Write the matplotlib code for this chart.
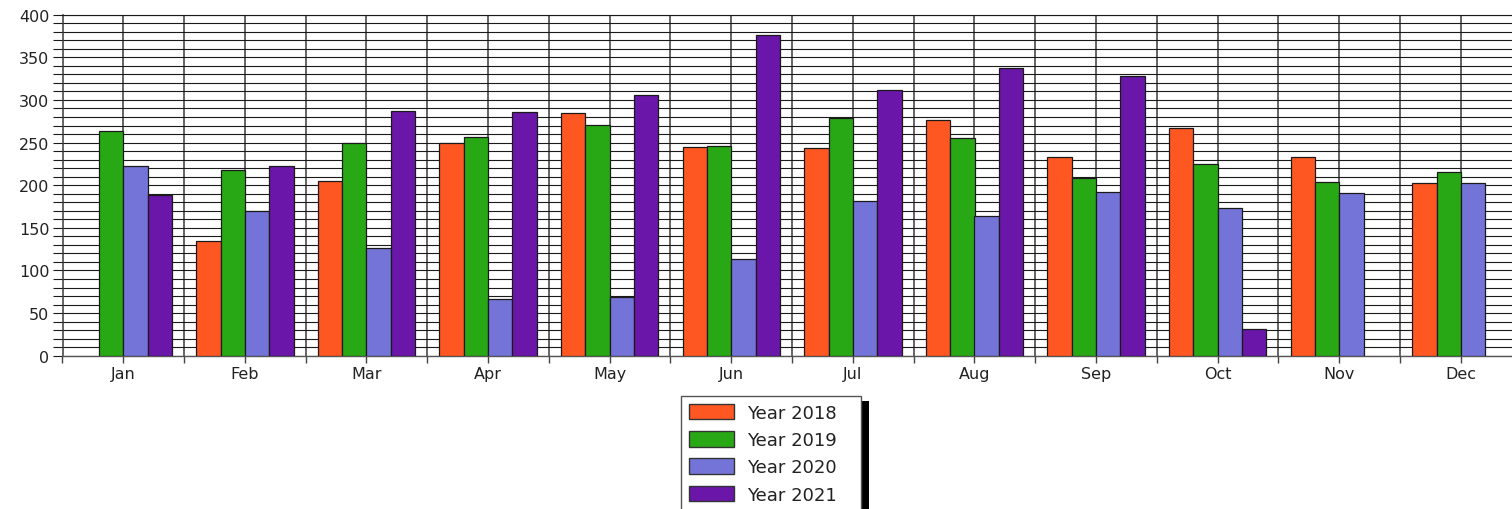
import numpy as np
import matplotlib
matplotlib.use("Agg")
import matplotlib.pyplot as plt
from matplotlib.patches import Patch, Rectangle
from matplotlib.ticker import MultipleLocator, FixedLocator

months = ["Jan", "Feb", "Mar", "Apr", "May", "Jun", "Jul", "Aug", "Sep", "Oct", "Nov", "Dec"]
series_names = ["Year 2018", "Year 2019", "Year 2020", "Year 2021"]
nan = np.nan
y2018 = [nan, 135, 205, 250, 285, 245, 244, 276, 233, 267, 233, 203]
y2019 = [263, 218, 249, 256, 271, 246, 279, 255, 208, 225, 204, 216]
y2020 = [222, 170, 126, 67, 69, 113, 181, 164, 192, 173, 191, 202]
y2021 = [189, 223, 287, 286, 306, 376, 312, 338, 328, 31, nan, nan]
series = [y2018, y2019, y2020, y2021]
colors = ["#FF5722", "#28A815", "#7474D8", "#6A16A8"]

plt.rcParams['font.family'] = ['DejaVu Sans']

W, H = 1512, 510
fig = plt.figure(figsize=(W / 100, H / 100), dpi=100)
left_px, right_px = 62.5, 1521.7
top_px, bot_px = 15.7, 356.7
ax = fig.add_axes([left_px / W, (H - bot_px) / H, (right_px - left_px) / W, (bot_px - top_px) / H])

x = np.arange(len(months))
bw = 0.2
for i, (vals, c) in enumerate(zip(series, colors)):
    ax.bar(x + (i - 1.5) * bw, vals, width=bw, color=c, edgecolor="#1a1a1a",
           linewidth=0.9, zorder=3)

ax.set_xlim(-0.5, len(months) - 0.5)
ax.set_ylim(0, 400)
ax.set_axisbelow(True)

ax.set_xticks(x)
ax.set_xticklabels(months)
ax.xaxis.set_minor_locator(FixedLocator(np.arange(-0.5, len(months), 1.0)))
ax.yaxis.set_major_locator(MultipleLocator(50))
ax.yaxis.set_minor_locator(MultipleLocator(10))

ax.tick_params(axis="x", which="both", length=5, width=1, color="#444444",
               labelsize=11.5, labelcolor="#222222", pad=2.5)
ax.tick_params(axis="y", which="both", length=7.5, width=0.8, color="#1a1a1a",
               labelsize=11.5, labelcolor="#222222", pad=2)

ax.yaxis.grid(True, which="both", color="#1a1a1a", linewidth=0.8)
ax.xaxis.grid(True, which="both", color="#3a3a3a", linewidth=1.1)

ax.spines["right"].set_visible(False)
ax.spines["left"].set_color("#3a3a3a")
ax.spines["left"].set_linewidth(1.1)
ax.spines["top"].set_color("#1a1a1a")
ax.spines["top"].set_linewidth(0.8)
ax.spines["bottom"].set_color("#555555")
ax.spines["bottom"].set_linewidth(1.0)

handles = [Patch(facecolor=c, edgecolor="#333333", linewidth=1.0) for c in colors]
leg_left = 681 / W
leg_top = (H - 397) / H
leg_w = 180 / W
leg = fig.legend(handles, series_names, loc="upper left",
                 bbox_to_anchor=(leg_left, leg_top - 0.5, leg_w, 0.5),
                 mode="expand", borderaxespad=0, fontsize=13, frameon=True,
                 fancybox=False, edgecolor="#555555", framealpha=1,
                 handlelength=2.5, handleheight=0.95, handletextpad=0.75,
                 borderpad=0.42, labelspacing=0.52)
leg.get_frame().set_linewidth(1.0)
leg.set_zorder(5)
for t in leg.get_texts():
    t.set_color("#222222")

fig.canvas.draw()
bb = leg.get_window_extent()
shadow = Rectangle(((bb.x0 + 8) / W, (bb.y0 - 5) / H), bb.width / W, bb.height / H,
                   transform=fig.transFigure, facecolor="black", edgecolor="none",
                   zorder=4)
fig.add_artist(shadow)

fig.savefig("out.png", dpi=100)
